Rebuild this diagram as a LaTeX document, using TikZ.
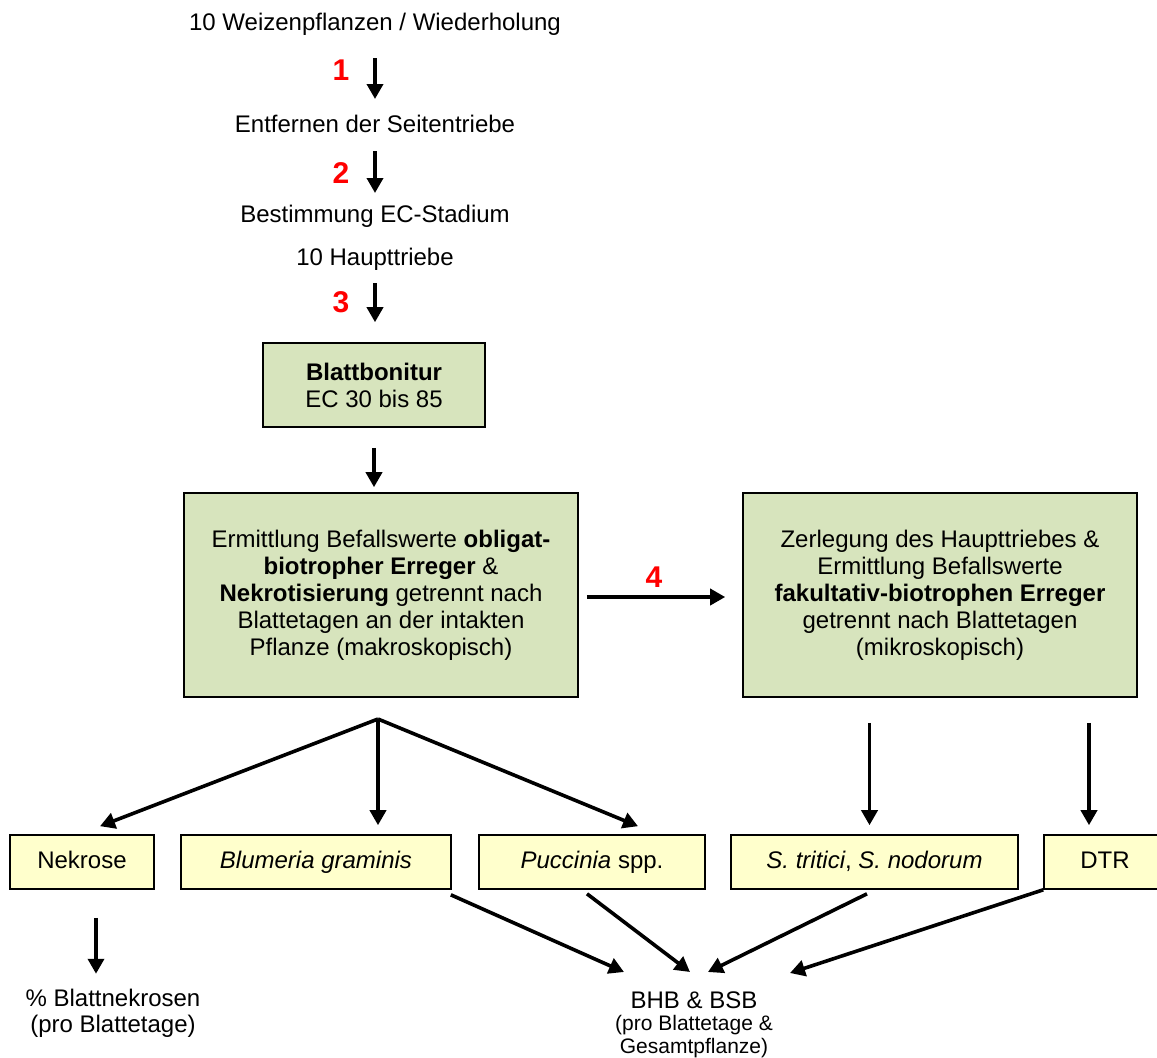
\documentclass[tikz,border=0pt]{standalone}
\usepackage{fontspec}
\setmainfont{Liberation Sans}
\usepackage{xcolor}
\usepackage{tikz}
\usetikzlibrary{positioning}
\usetikzlibrary{arrows.meta,calc}
\definecolor{boxgreen}{HTML}{D7E4BD}
\definecolor{boxyellow}{HTML}{FFFFCC}
\tikzstyle{greenbox}=[rectangle,draw=black,line width=0.8pt,fill=boxgreen,align=center,inner sep=0pt,font=\fontsize{12}{13.5}\selectfont]
\tikzstyle{yellowbox}=[rectangle,draw=black,line width=0.8pt,fill=boxyellow,minimum height=27pt,inner sep=0pt,text height=9pt,text depth=2.4pt,font=\fontsize{12}{14}\selectfont]
\tikzstyle{edge}=[draw,line width=1.8pt,-{Triangle[length=7.5pt,width=8pt]}]
\tikzstyle{stepnr}=[text=red,font=\bfseries\fontsize{15}{18}\selectfont]
\tikzset{txt/.style={align=center,font=\fontsize{12}{13}\selectfont}}
\tikzset{smalltxt/.style={align=center,font=\fontsize{10.5}{11.5}\selectfont}}

\begin{document}
\begin{tikzpicture}[x=0.5pt,y=-0.5pt]
 \useasboundingbox (0,0) rectangle (1157,1057);

 %Ablauf oben
 \foreach \y/\name/\label in {24/t0/{10 Weizenpflanzen / Wiederholung}, 124/t1/{Entfernen der Seitentriebe}, 216/t2/{Bestimmung EC-Stadium}, 259/t3/{10 Haupttriebe}}
          \node[txt] (\name) at (375,\y) {\label};

 \foreach \x/\y/\name/\label in {341/70/n1/1, 341/173/n2/2, 341/302/n3/3, 654/577/n4/4}
          \node[stepnr] (\name) at (\x,\y) {\label};

 \node[greenbox,minimum width=111pt,minimum height=42pt] (blatt) at (374,385) {\textbf{Blattbonitur}\\EC 30 bis 85};

 \path[edge,shorten <=17pt,shorten >=12.5pt] (t0.center) -- (t1.center);
 \path[edge,shorten <=13.5pt,shorten >=11.5pt] (t1.center) -- (t2.center);
 \path[edge,shorten <=12pt,shorten >=10pt] (t3.center) -- (t3.center |- blatt.north);

 %Befallswerte
 \node[greenbox,minimum width=197pt,minimum height=102pt] (obl) at (381,595) {Ermittlung Befallswerte \textbf{obligat-}\\\textbf{biotropher Erreger} \&\\\textbf{Nekrotisierung} getrennt nach\\Blattetagen an der intakten\\Pflanze (makroskopisch)};
 \node[greenbox,minimum width=197pt,minimum height=102pt] (fak) at (940,595) {Zerlegung des Haupttriebes \&\\Ermittlung Befallswerte\\\textbf{fakultativ-biotrophen Erreger}\\getrennt nach Blattetagen\\(mikroskopisch)};

 \path[edge,shorten <=10pt,shorten >=2.5pt] (blatt.south) -- (blatt.south |- obl.north);
 \path[edge,shorten <=4pt,shorten >=8.5pt] ($(obl.east)+(0,-1pt)$) -- ($(fak.west)+(0,-1pt)$);

 %Erreger
 \foreach \x/\w/\name/\label in {82/72pt/nekr/Nekrose, 316/135pt/blum/{\textit{Blumeria graminis}}, 592/113pt/pucc/{\textit{Puccinia} spp.}, 874.5/143.5pt/stri/{\textit{S. tritici}, \textit{S. nodorum}}, 1105/61pt/dtr/DTR}
          \node[yellowbox,minimum width=\w] (\name) at (\x,862) {\label};

 \coordinate (fork) at (378,719);
 \path[edge] (fork) -- ($(nekr.north)+(9pt,4pt)$);
 \path[edge,shorten >=4.5pt] (fork) -- (fork |- blum.north);
 \path[edge] (fork) -- ($(pucc.north)+(23pt,4pt)$);

 \path[edge,shorten <=12.5pt,shorten >=4.5pt] ($(fak.south -| stri.north)+(-2.5pt,0)$) -- ($(stri.north)+(-2.5pt,0)$);
 \path[edge,shorten <=12.5pt,shorten >=4.5pt] ($(fak.south -| dtr.north)+(-8pt,0)$) -- ($(dtr.north)+(-8pt,0)$);

 %Ergebnisse
 \node[txt] (pnek) at (113,1013) {\% Blattnekrosen\\(pro Blattetage)};
 \node[txt] (bhb) at (694,1000) {BHB \& BSB};
 \node[smalltxt] (bhbsub) at (694,1037) {(pro Blattetage \&\\Gesamtpflanze)};

 \path[edge,shorten <=14pt,shorten >=4pt] ($(nekr.south)+(7pt,0)$) -- ($(nekr.south |- pnek.north)+(7pt,0)$);

 \path[edge] ($(blum.south east)+(-0.5pt,-2.5pt)$) -- ($(bhb.center)+(-35pt,14pt)$);
 \path[edge] ($(pucc.south)+(-2.5pt,-2pt)$) -- ($(bhb.center)+(-2pt,14pt)$);
 \path[edge] ($(stri.south)+(-3.75pt,-2pt)$) -- ($(bhb.center)+(7pt,14pt)$);
 \path[edge] (dtr.south west) -- ($(bhb.center)+(48pt,13.5pt)$);

\end{tikzpicture}
\end{document}
